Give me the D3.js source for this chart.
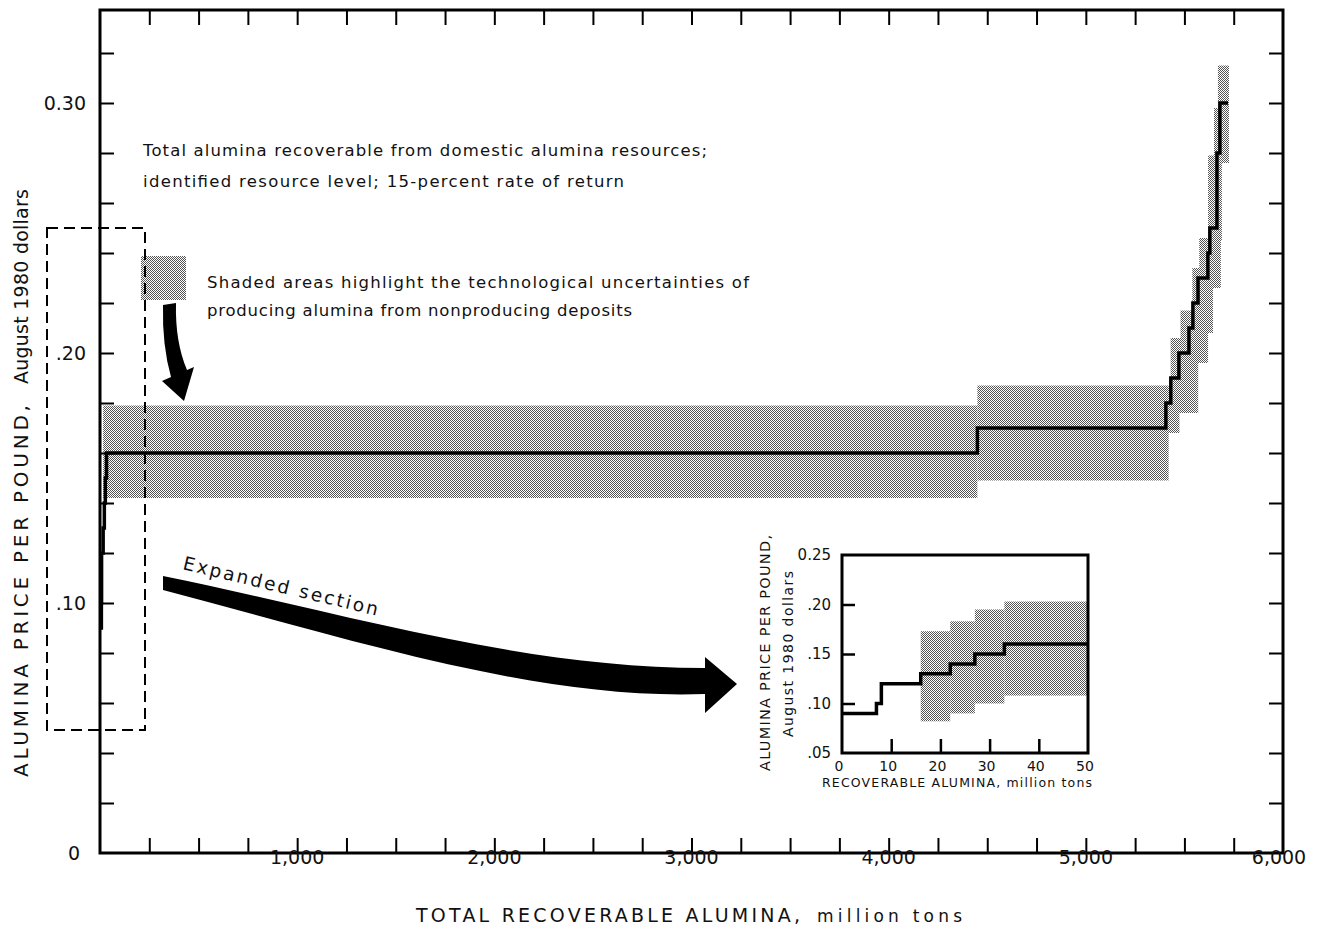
<!DOCTYPE html>
<html>
<head>
<meta charset="utf-8">
<script src="https://cdn.jsdelivr.net/npm/d3@7/dist/d3.min.js"></script>
<style>
  body { margin: 0; background: #fff; }
  text { font-family: "DejaVu Sans", sans-serif; fill: #111; }
</style>
</head>
<body>
<div id="chart"></div>
<script>
// step curve: price applies from stepStart[i] until the next start
const stepStart = [0, 7, 8, 16, 22, 27, 33, 4450, 5406, 5431, 5472, 5523, 5543, 5569, 5619, 5629, 5665, 5680];
const stepPrice = [0.09, 0.10, 0.12, 0.13, 0.14, 0.15, 0.16, 0.17, 0.18, 0.19, 0.20, 0.21, 0.22, 0.23, 0.24, 0.25, 0.28, 0.30];
const stepEnd = 5721;

// shaded uncertainty areas, main chart
const bandX0 = [16, 4450, 5400, 5430, 5480, 5540, 5575, 5620, 5650, 5670];
const bandX1 = [4450, 5420, 5475, 5570, 5620, 5645, 5685, 5690, 5726, 5726];
const bandLo = [0.142, 0.149, 0.168, 0.176, 0.196, 0.208, 0.226, 0.245, 0.276, 0.297];
const bandHi = [0.179, 0.187, 0.186, 0.206, 0.217, 0.234, 0.246, 0.279, 0.298, 0.315];

// shaded areas, expanded section
const insetBandX0 = [16, 22, 27, 33];
const insetBandX1 = [22, 27, 33, 50];
const insetBandLo = [0.082, 0.090, 0.100, 0.108];
const insetBandHi = [0.173, 0.183, 0.195, 0.203];

const xLabelVals = [1000, 2000, 3000, 4000, 5000, 6000];
const yLabelVals = [0, 0.10, 0.20, 0.30];
const yLabelText = ["0", ".10", ".20", "0.30"];
const insetXTicks = [0, 10, 20, 30, 40, 50];
const insetYTicks = [0.05, 0.10, 0.15, 0.20, 0.25];
const insetYText = [".05", ".10", ".15", ".20", "0.25"];

const W = 1331, H = 932;
const svg = d3.select("#chart").append("svg").attr("width", W).attr("height", H);

// halftone dots for the shaded areas
const pat = svg.append("defs").append("pattern")
    .attr("id", "dots").attr("width", 2).attr("height", 2)
    .attr("patternUnits", "userSpaceOnUse");
pat.append("rect").attr("width", 2).attr("height", 2).attr("fill", "#fff");
pat.append("rect").attr("x", 0).attr("y", 0).attr("width", 1).attr("height", 1).attr("fill", "#555");
pat.append("rect").attr("x", 1).attr("y", 1).attr("width", 1).attr("height", 1).attr("fill", "#555");

const x = d3.scaleLinear().domain([0, 6000]).range([100, 1283]);
const y = d3.scaleLinear().domain([0, 0.3372]).range([853, 10]);

const pts = stepStart.map((s, i) => [s, stepPrice[i]]);
pts.push([stepEnd, stepPrice[stepPrice.length - 1]]);

// bands
const bands = bandX0.map((d, i) => ({x0: d, x1: bandX1[i], lo: bandLo[i], hi: bandHi[i]}));
svg.append("g").selectAll("rect").data(bands).enter().append("rect")
    .attr("x", d => x(d.x0)).attr("width", d => x(d.x1) - x(d.x0))
    .attr("y", d => y(d.hi)).attr("height", d => y(d.lo) - y(d.hi))
    .attr("fill", "url(#dots)");

// step line
const line = d3.line().x(d => x(d[0])).y(d => y(d[1])).curve(d3.curveStepAfter);
svg.append("path").datum(pts).attr("d", line)
    .attr("fill", "none").attr("stroke", "#000").attr("stroke-width", 3.5);

// ticks (inward on all four sides)
const xMinor = d3.range(250, 6000, 250);
const yMinor = d3.range(0.02, 0.33, 0.02);
svg.append("g").attr("transform", `translate(0,${y(0)})`)
    .call(d3.axisBottom(x).tickValues(xMinor).tickSize(-15).tickFormat(""))
    .call(g => g.select(".domain").remove());
svg.append("g").attr("transform", `translate(0,${y.range()[1]})`)
    .call(d3.axisTop(x).tickValues(xMinor).tickSize(-15).tickFormat(""))
    .call(g => g.select(".domain").remove());
svg.append("g").attr("transform", `translate(${x(0)},0)`)
    .call(d3.axisLeft(y).tickValues(yMinor).tickSize(-14).tickFormat(""))
    .call(g => g.select(".domain").remove());
svg.append("g").attr("transform", `translate(${x(6000)},0)`)
    .call(d3.axisRight(y).tickValues(yMinor).tickSize(-14).tickFormat(""))
    .call(g => g.select(".domain").remove());
svg.selectAll(".tick line").attr("stroke", "#000").attr("stroke-width", 2);

// frame
svg.append("rect").attr("x", x(0)).attr("y", y.range()[1])
    .attr("width", x(6000) - x(0)).attr("height", y(0) - y.range()[1])
    .attr("fill", "none").attr("stroke", "#000").attr("stroke-width", 3);

// tick labels
svg.append("g").selectAll("text").data(xLabelVals).enter().append("text")
    .attr("x", d => x(d) - (d === 6000 ? 4 : 0)).attr("y", 864)
    .attr("text-anchor", "middle").attr("font-size", 19)
    .text(d => d3.format(",")(d));
svg.append("g").selectAll("text").data(yLabelVals).enter().append("text")
    .attr("x", (d, i) => i === 0 ? 80 : 86).attr("y", d => y(d) + 7)
    .attr("text-anchor", "end").attr("font-size", 19)
    .text((d, i) => yLabelText[i]);

// axis titles
svg.append("text").attr("x", 416).attr("y", 922).attr("font-size", 19)
    .attr("textLength", 384).attr("lengthAdjust", "spacing")
    .text("TOTAL RECOVERABLE ALUMINA,");
svg.append("text").attr("x", 817).attr("y", 922).attr("font-size", 17)
    .attr("textLength", 145).attr("lengthAdjust", "spacing")
    .text("million tons");
svg.append("text").attr("transform", "translate(28,777) rotate(-90)").attr("font-size", 20)
    .attr("textLength", 372).attr("lengthAdjust", "spacing")
    .text("ALUMINA PRICE PER POUND,");
svg.append("text").attr("transform", "translate(28,384) rotate(-90)").attr("font-size", 19)
    .attr("textLength", 195).attr("lengthAdjust", "spacing")
    .text("August 1980 dollars");

// annotations
const notes = [
    {x: 143, y: 156, len: 564, t: "Total alumina recoverable from domestic alumina resources;"},
    {x: 143, y: 187, len: 481, t: "identified resource level; 15-percent rate of return"},
    {x: 207, y: 288, len: 542, t: "Shaded areas highlight the technological uncertainties of"},
    {x: 207, y: 316, len: 425, t: "producing alumina from nonproducing deposits"}
];
svg.append("g").selectAll("text").data(notes).enter().append("text")
    .attr("x", d => d.x).attr("y", d => d.y).attr("font-size", 16.5)
    .attr("textLength", d => d.len).attr("lengthAdjust", "spacing")
    .text(d => d.t);

// legend swatch
svg.append("rect").attr("x", 141).attr("y", 256).attr("width", 45).attr("height", 44)
    .attr("fill", "url(#dots)");

// dashed box marking the expanded section
svg.append("rect").attr("x", 47).attr("y", 228).attr("width", 98).attr("height", 502)
    .attr("fill", "none").attr("stroke", "#000").attr("stroke-width", 2)
    .attr("stroke-dasharray", "11,6");

// small curved arrow
svg.append("path")
    .attr("d", "M163,305 L176,303 Q175,342 187,370 L194,367 L184,401 L162,381 L171,377 Q162,345 163,305 Z")
    .attr("fill", "#000");

// big arrow to the inset
svg.append("path")
    .attr("d", "M163,576 C340,612 520,668 705,668 L705,657 L737,684 L705,713 L705,694 C540,700 360,642 163,590 Z")
    .attr("fill", "#000");
svg.append("text").attr("transform", "translate(182,569) rotate(13.5)")
    .attr("font-size", 18.5)
    .attr("textLength", 200).attr("lengthAdjust", "spacing")
    .text("Expanded section");

// inset: expanded section
const ix = d3.scaleLinear().domain([0, 50]).range([842, 1088]);
const iy = d3.scaleLinear().domain([0.05, 0.25]).range([753, 555]);
const inset = svg.append("g");
inset.append("rect").attr("x", ix(0)).attr("y", iy(0.25))
    .attr("width", ix(50) - ix(0)).attr("height", iy(0.05) - iy(0.25)).attr("fill", "#fff");

const iBands = insetBandX0.map((d, i) => ({x0: d, x1: insetBandX1[i], lo: insetBandLo[i], hi: insetBandHi[i]}));
inset.append("g").selectAll("rect").data(iBands).enter().append("rect")
    .attr("x", d => ix(d.x0)).attr("width", d => ix(d.x1) - ix(d.x0))
    .attr("y", d => iy(d.hi)).attr("height", d => iy(d.lo) - iy(d.hi))
    .attr("fill", "url(#dots)");

const iPts = pts.filter(d => d[0] < 50);
iPts.push([50, iPts[iPts.length - 1][1]]);
const iLine = d3.line().x(d => ix(d[0])).y(d => iy(d[1])).curve(d3.curveStepAfter);
inset.append("path").datum(iPts).attr("d", iLine)
    .attr("fill", "none").attr("stroke", "#000").attr("stroke-width", 3.5);

inset.append("g").attr("transform", `translate(0,${iy(0.05)})`)
    .call(d3.axisBottom(ix).tickValues([10, 20, 30, 40]).tickSize(-14).tickFormat(""))
    .call(g => g.select(".domain").remove());
inset.append("g").attr("transform", `translate(${ix(0)},0)`)
    .call(d3.axisLeft(iy).tickValues([0.10, 0.15, 0.20]).tickSize(-13).tickFormat(""))
    .call(g => g.select(".domain").remove());
inset.selectAll(".tick line").attr("stroke", "#000").attr("stroke-width", 2.5);

inset.append("rect").attr("x", ix(0)).attr("y", iy(0.25))
    .attr("width", ix(50) - ix(0)).attr("height", iy(0.05) - iy(0.25))
    .attr("fill", "none").attr("stroke", "#000").attr("stroke-width", 3);

inset.append("g").selectAll("text").data(insetXTicks).enter().append("text")
    .attr("x", d => ix(d) - 3).attr("y", 771).attr("text-anchor", "middle").attr("font-size", 14)
    .text(d => d);
inset.append("g").selectAll("text").data(insetYTicks).enter().append("text")
    .attr("x", 831).attr("y", d => iy(d) + 5).attr("text-anchor", "end").attr("font-size", 15)
    .text((d, i) => insetYText[i]);
inset.append("text").attr("x", 822).attr("y", 787).attr("font-size", 12.5)
    .attr("textLength", 270).attr("lengthAdjust", "spacing")
    .text("RECOVERABLE ALUMINA, million tons");
inset.append("text").attr("transform", "translate(770,771) rotate(-90)").attr("font-size", 14.5)
    .attr("textLength", 236).attr("lengthAdjust", "spacing")
    .text("ALUMINA PRICE PER POUND,");
inset.append("text").attr("transform", "translate(793,737) rotate(-90)").attr("font-size", 14)
    .attr("textLength", 166).attr("lengthAdjust", "spacing")
    .text("August 1980 dollars");
</script>
</body>
</html>
